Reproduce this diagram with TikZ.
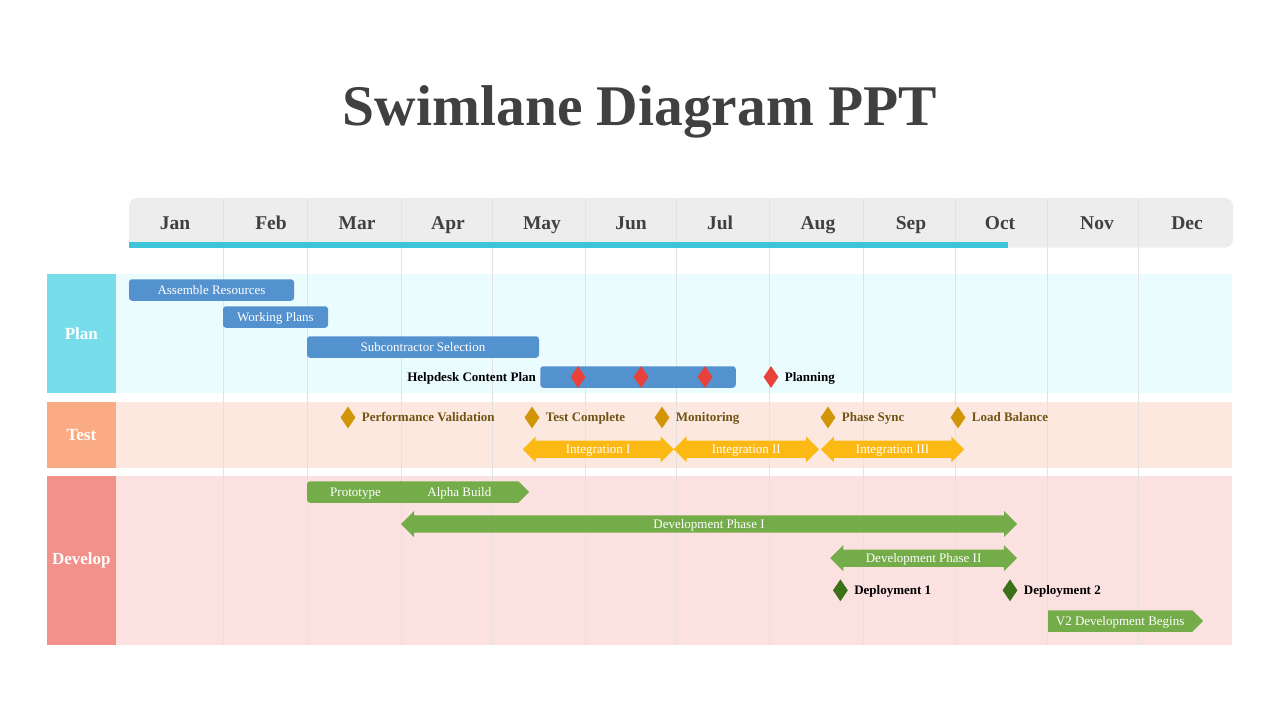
\documentclass[tikz,border=0pt]{standalone}
\usepackage{fontspec}
\setmainfont{Liberation Serif}
\usepackage{xcolor}
\definecolor{titlegray}{RGB}{ 64,  64,  64}
\definecolor{headgray}{RGB}{237, 237, 237}
\definecolor{gridgray}{RGB}{226, 226, 226}
\definecolor{barcyan}{RGB}{ 62, 196, 216}
\definecolor{plancyan}{RGB}{119, 221, 234}
\definecolor{planlight}{RGB}{235, 252, 254}
\definecolor{testorange}{RGB}{251, 171, 132}
\definecolor{testlight}{RGB}{252, 232, 223}
\definecolor{devred}{RGB}{242, 144, 138}
\definecolor{devlight}{RGB}{252, 225, 225}
\definecolor{planblue}{RGB}{ 83, 146, 206}
\definecolor{gold}{RGB}{211, 149,   8}
\definecolor{goldtext}{RGB}{112,  84,  20}
\definecolor{amber}{RGB}{253, 185,  19}
\definecolor{leaf}{RGB}{117, 172,  74}
\definecolor{darkleaf}{RGB}{ 59, 113,  23}
\definecolor{ruby}{RGB}{232,  66,  58}
\usepackage{tikz}
\usetikzlibrary{
  shapes.geometric, shapes.arrows, positioning
}
\tikzset{
  lanehead/.style={minimum width=69.3pt, inner sep=0pt, text=white,
    font=\fontsize{17}{20}\selectfont\bfseries},
  laneback/.style={minimum width=1116pt, inner sep=0pt, anchor=west},
  month/.style={anchor=base, text=titlegray,
    font=\fontsize{19.5}{22}\selectfont\bfseries},
  gridline/.style={draw=gridgray, line width=0.8pt},
  taskbar/.style={fill=planblue, rounded corners=3pt, minimum height=21.5pt,
    inner sep=0pt, text height=10pt, text depth=1.5pt, text=white,
    font=\fontsize{13}{15}\selectfont},
  twoway/.style={double arrow, double arrow head extend=3pt,
    minimum width=26pt, inner sep=0pt, text height=10pt, text depth=1.5pt,
    text=white, font=\fontsize{13}{15}\selectfont},
  oneway/.style={single arrow, single arrow head extend=0pt, fill=leaf,
    minimum width=21.5pt, inner sep=0pt, text height=10pt, text depth=1.5pt,
    text=white, font=\fontsize{13}{15}\selectfont, anchor=tail},
  milestone/.style={diamond, minimum width=15pt, minimum height=22pt,
    inner sep=0pt},
  mslabel/.style={inner sep=0pt, text height=10pt, text depth=1.5pt,
    font=\fontsize{13}{15}\selectfont\bfseries}
}

\begin{document}
\begin{tikzpicture}[x=1pt, y=-1pt]
  \useasboundingbox (0,0) rectangle (1280,720);

  \node[anchor=base, text=titlegray, font=\fontsize{57.5}{62}\selectfont\bfseries]
    (title) at (640,125) {Swimlane Diagram PPT};

  % month header
  \fill[headgray, rounded corners=8pt] (129,198) rectangle (1233,247.5);

  % lanes
  \node[lanehead, fill=plancyan, minimum height=118.7pt] (planhd) at (81.35,333.35) {Plan};
  \node[laneback, fill=planlight, minimum height=118.7pt, right=0pt of planhd] (planlane) {};
  \node[lanehead, fill=testorange, minimum height=66pt] (testhd) at (81.35,434.7) {Test};
  \node[laneback, fill=testlight, minimum height=66pt, right=0pt of testhd] (testlane) {};
  \node[lanehead, fill=devred, minimum height=168.7pt] (devhd) at (81.35,560.35) {Develop};
  \node[laneback, fill=devlight, minimum height=168.7pt, right=0pt of devhd] (devlane) {};

  \foreach \gx in {223,307.5,401,492.5,585,676.5,769.5,863.5,955,1047,1138}
    \draw[gridline] (\gx,198) -- (\gx,645);
  \fill[barcyan] (129,242) rectangle (1008,247.5);

  \foreach \mx/\mname in {175/Jan,271/Feb,357/Mar,448/Apr,542/May,631/Jun,
                          720/Jul,818/Aug,911/Sep,1000/Oct,1097/Nov,1187/Dec}
    \node[month] (m-\mname) at (\mx,229) {\mname};

  % plan
  \node[taskbar, minimum width=165pt] (assemble) at (211.5,290) {Assemble Resources};
  \node[taskbar, minimum width=105pt] (working) at (275.5,317) {Working Plans};
  \node[taskbar, minimum width=232pt] (subcon) at (423,347) {Subcontractor Selection};
  \node[taskbar, minimum width=195.5pt] (helpdesk) at (638,377) {};
  \node[mslabel, left=4pt of helpdesk] (helplbl) {Helpdesk Content Plan};
  \foreach \dx [count=\i] in {578,641,705}
    \node[milestone, fill=ruby] (hd\i) at (\dx,377) {};
  \node[milestone, fill=ruby] (planning) at (771,377) {};
  \node[mslabel, right=6pt of planning] (planninglbl) {Planning};

  % test
  \node[milestone, fill=gold] (perf) at (348,417.5) {};
  \node[mslabel, text=goldtext, right=6pt of perf] (perflbl) {Performance Validation};
  \node[milestone, fill=gold] (done) at (532,417.5) {};
  \node[mslabel, text=goldtext, right=6pt of done] (donelbl) {Test Complete};
  \node[milestone, fill=gold] (monitor) at (662,417.5) {};
  \node[mslabel, text=goldtext, right=6pt of monitor] (monitorlbl) {Monitoring};
  \node[milestone, fill=gold] (sync) at (828,417.5) {};
  \node[mslabel, text=goldtext, right=6pt of sync] (synclbl) {Phase Sync};
  \node[milestone, fill=gold] (balance) at (958,417.5) {};
  \node[mslabel, text=goldtext, right=6pt of balance] (balancelbl) {Load Balance};

  \node[twoway, fill=amber, minimum height=151pt] (integ1) at (598.2,449.3) {Integration I};
  \node[twoway, fill=amber, minimum height=145.3pt] (integ2) at (746.3,449.3) {Integration II};
  \node[twoway, fill=amber, minimum height=143.3pt] (integ3) at (892.6,449.3) {Integration III};

  % develop
  \node[taskbar, fill=leaf, minimum width=97pt] (proto) at (355.5,492) {Prototype};
  \node[oneway, minimum height=129pt] (alpha) at (400,492) {Alpha Build};
  \node[twoway, fill=leaf, minimum height=616pt] (phase1) at (709,524) {Development Phase I};
  \node[twoway, fill=leaf, minimum height=186.7pt] (phase2) at (923.6,558.2) {Development Phase II};
  \node[milestone, fill=darkleaf] (deploy1) at (840.4,590.3) {};
  \node[mslabel, right=6pt of deploy1] (deploy1lbl) {Deployment 1};
  \node[milestone, fill=darkleaf] (deploy2) at (1010,590.3) {};
  \node[mslabel, right=6pt of deploy2] (deploy2lbl) {Deployment 2};
  \node[oneway, minimum height=155pt] (v2) at (1047.8,621) {V2 Development Begins};

\end{tikzpicture}
\end{document}
